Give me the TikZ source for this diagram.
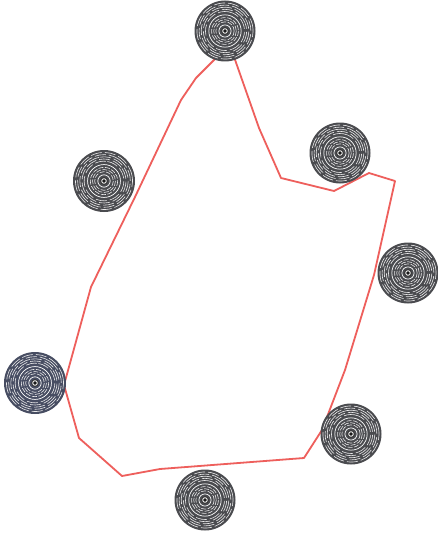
\documentclass[tikz,border=0pt]{standalone}
\definecolor{disc}{HTML}{4A4B4F}
\definecolor{discb}{HTML}{474D62}
\definecolor{route}{HTML}{EE5F5C}
\tikzset{x=1pt,y=-1pt,
  routeline/.style={draw=route,line width=1.8pt,line join=round},
  ring/.style={draw=white,line width=0.7pt},
  ringfaint/.style={draw=white!88!disc,line width=0.6pt,dash pattern=on 11pt off 3pt},
}
\newcommand{\spiraldisc}[5]{% name, x, y, radius, colour
  \begin{scope}[shift={(#2,#3)}]
    \node[circle,fill=#5,minimum size=#4*2pt,inner sep=0pt] (#1) at (0,0) {};
    \foreach \r/\a in {0.92/10,0.85/55,0.78/100,0.71/35,0.64/80}{\draw[ringfaint,rotate=\a] (0,0) circle[radius=\r*#4];}
    \draw[ring] (0,0) circle[radius=0.53*#4];
    \foreach \r in {0.44,0.37,0.30}{\draw[ringfaint,dash pattern=on 5pt off 1.5pt] (0,0) circle[radius=\r*#4];}
    \draw[ring] (0,0) circle[radius=0.2*#4];
    \fill[black!80] (0,0) circle[radius=3.8];
    \draw[white,line width=0.8pt] (0,0) circle[radius=2.3];
    \fill[black] (0,0) circle[radius=0.9];
  \end{scope}
}
\begin{document}
\begin{tikzpicture}
\useasboundingbox (0,0) rectangle (438,535);
\fill[white] (0,0) rectangle (438,535);
\draw[routeline] (220,54) -- (196,78) -- (181,100) -- (135,197) -- (91,287) -- (64,385)
  -- (79,438) -- (122,476) -- (160,469) -- (304,458) -- (322,430) -- (345,370)
  -- (374,275) -- (395,181) -- (369,173) -- (334,191) -- (281,178) -- (259,128) -- (233,54);
\spiraldisc{d1}{225}{31}{30.5}{disc}
\spiraldisc{d2}{340}{153}{30.5}{disc}
\spiraldisc{d3}{408}{273}{30.5}{disc}
\spiraldisc{d4}{351}{434}{30.5}{disc}
\spiraldisc{d5}{205}{500}{30.5}{disc}
\spiraldisc{d6}{35}{383}{31}{discb}
\spiraldisc{d7}{104}{181}{31}{disc}
\end{tikzpicture}
\end{document}
